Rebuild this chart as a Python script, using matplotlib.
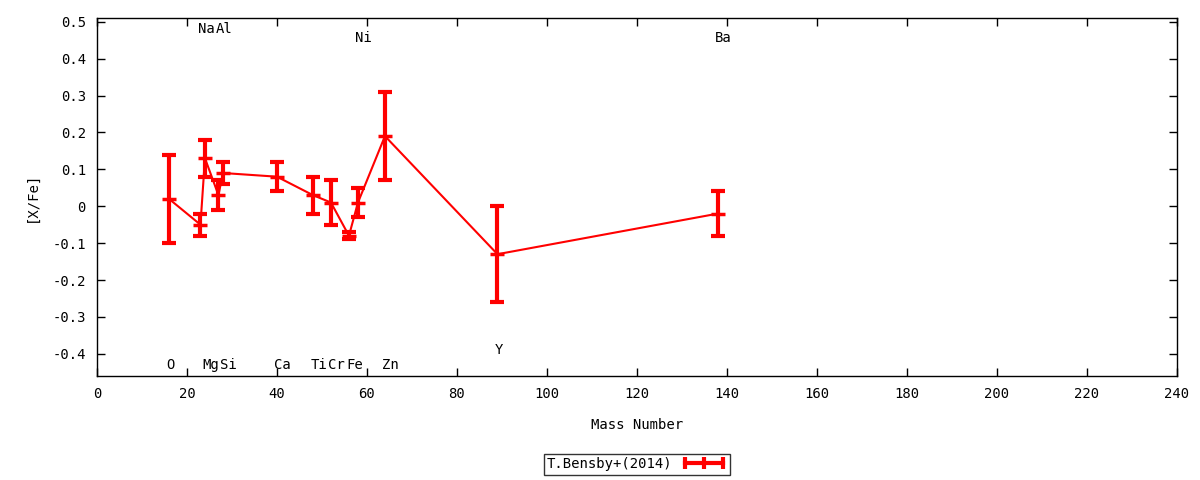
import numpy as np
import matplotlib
matplotlib.use("Agg")
import matplotlib.pyplot as plt
from matplotlib.lines import Line2D
from matplotlib.legend_handler import HandlerLine2D
from matplotlib.ticker import FuncFormatter, MultipleLocator

plt.rcParams['font.family'] = ['DejaVu Sans Mono']
plt.rcParams['axes.unicode_minus'] = False

# --- abundance data ---
elements = ['O', 'Na', 'Mg', 'Al', 'Si', 'Ca', 'Ti', 'Cr', 'Fe', 'Ni', 'Zn', 'Y', 'Ba']
mass     = [16, 23, 24, 27, 28, 40, 48, 52, 56, 58, 64, 89, 138]
x_fe     = [0.02, -0.05, 0.13, 0.03, 0.09, 0.08, 0.03, 0.01, -0.08, 0.01, 0.19, -0.13, -0.02]
x_fe_err = [0.12, 0.03, 0.05, 0.04, 0.03, 0.04, 0.05, 0.06, 0.01, 0.04, 0.12, 0.13, 0.06]

# element label heights, as in the gnuplot source
label_y  = [-0.43, 0.48, -0.43, 0.48, -0.43, -0.43, -0.43, -0.43, -0.43, 0.455, -0.43, -0.39, 0.455]

series_name = 'T.Bensby+(2014)'
RED = '#ff0000'

fig = plt.figure(figsize=(12, 4.8), dpi=100)
ax = fig.add_axes([0.0808, 0.2167, 0.9, 0.7458])

ax.plot(mass, x_fe, color=RED, lw=1.5, zorder=2)
ax.errorbar(mass, x_fe, yerr=x_fe_err, fmt='none', ecolor=RED, elinewidth=3,
            capsize=5, capthick=3, zorder=3)
ax.plot(mass, x_fe, ls='none', marker='_', ms=10, mew=2.5, color=RED, zorder=4)

for el, m, ly in zip(elements, mass, label_y):
    ax.text(m - 0.6, ly, el, ha='left', va='center', fontsize=10)

ax.set_xlim(0, 240)
ax.set_ylim(-0.46, 0.51)
ax.xaxis.set_major_locator(MultipleLocator(20))
ax.yaxis.set_major_locator(MultipleLocator(0.1))
ax.yaxis.set_major_formatter(FuncFormatter(lambda v, p: '%g' % round(v, 2)))
ax.tick_params(direction='in', length=6, width=1, top=True, right=True,
               labelsize=10, pad=8)
for s in ax.spines.values():
    s.set_linewidth(1)

ax.set_xlabel('Mass Number', fontsize=10, labelpad=12)
ax.set_ylabel('[X/Fe]', fontsize=10, labelpad=10)

handle = Line2D([], [], color=RED, lw=3, marker='|', ms=9, mew=3)
leg = ax.legend([handle], [series_name], loc='center', bbox_to_anchor=(0.5, -0.246),
                markerfirst=False, handlelength=3.3, fontsize=10, frameon=True,
                fancybox=False, handler_map={Line2D: HandlerLine2D(numpoints=3)},
                borderpad=0.25, handletextpad=0.6)
leg.get_frame().set_edgecolor('black')
leg.get_frame().set_linewidth(1)

fig.savefig('out.png', dpi=100)
